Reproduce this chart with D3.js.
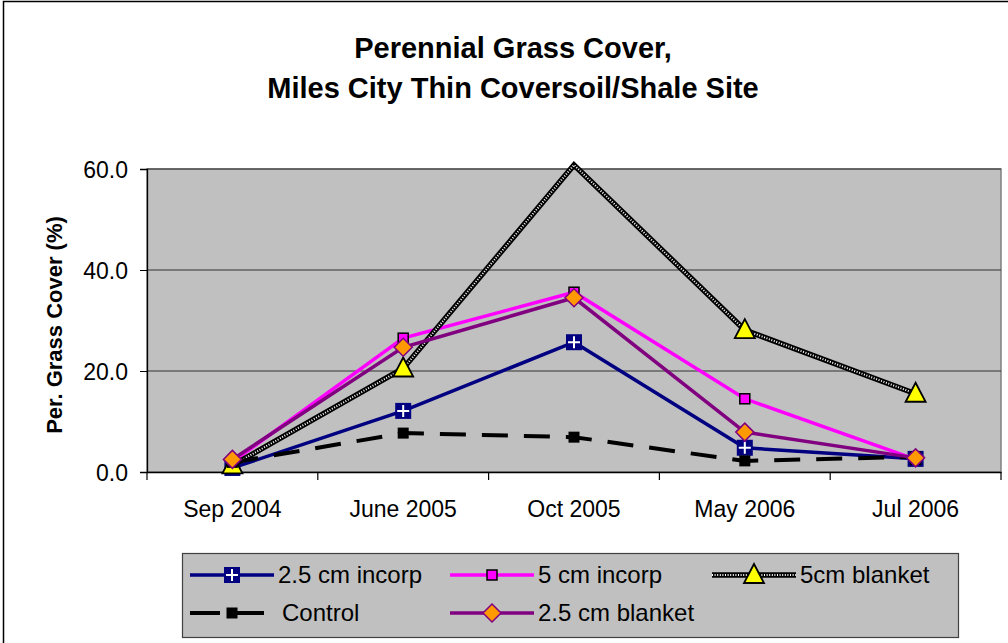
<!DOCTYPE html>
<html>
<head>
<meta charset="utf-8">
<script src="https://cdn.jsdelivr.net/npm/d3@7"></script>
<style>
  body { margin: 0; background: #fff; }
  text { font-family: "Liberation Sans", Arial, sans-serif; fill: #000; }
</style>
</head>
<body>
<div id="chart"></div>
<script>
// data
var months = ["Sep 2004", "June 2005", "Oct 2005", "May 2006", "Jul 2006"];
var incorp25 = [0.8, 12.1, 25.7, 4.8, 2.6];
var incorp5 = [2.0, 26.5, 35.6, 14.5, 2.5];
var blanket5 = [1.3, 20.5, 60.8, 28.1, 15.5];
var control = [1.9, 7.7, 6.9, 2.2, 3.0];
var blanket25 = [2.5, 24.7, 34.5, 7.9, 2.8];
var yTicks = [0, 20, 40, 60];

var svgWidth = 1008, svgHeight = 643;
var margin = {top: 169, left: 147, right: 7, bottom: 171};
var width = svgWidth - margin.left - margin.right;
var height = svgHeight - margin.top - margin.bottom;
var yMax = 60;

var svg = d3.select("#chart").append("svg")
  .attr("width", svgWidth)
  .attr("height", svgHeight);

// outer chart border
svg.append("rect")
  .attr("x", 3.5).attr("y", 1.5)
  .attr("width", svgWidth + 10).attr("height", svgHeight + 10)
  .attr("fill", "none").attr("stroke", "#000").attr("stroke-width", 1.5);

// title
svg.append("text").attr("x", 513).attr("y", 58)
  .attr("text-anchor", "middle").style("font-size", "29px").style("font-weight", "bold")
  .text("Perennial Grass Cover,");
svg.append("text").attr("x", 513).attr("y", 98)
  .attr("text-anchor", "middle").style("font-size", "29px").style("font-weight", "bold")
  .text("Miles City Thin Coversoil/Shale Site");

var chartGroup = svg.append("g")
  .attr("transform", `translate(${margin.left}, ${margin.top})`);

var x = d3.scaleBand().domain(months).range([0, width]);
var y = d3.scaleLinear().domain([0, yMax]).range([height, 0]);

// plot background
chartGroup.append("rect")
  .attr("width", width).attr("height", height)
  .attr("fill", "#c0c0c0").attr("stroke", "#808080").attr("stroke-width", 1.5);

// gridlines
chartGroup.selectAll(".grid")
  .data(yTicks.slice(1))
  .enter().append("line")
  .attr("x1", 0).attr("x2", width)
  .attr("y1", d => y(d)).attr("y2", d => y(d))
  .attr("stroke", "#333").attr("stroke-width", 1.2);

// axes
var leftAxis = d3.axisLeft(y).tickValues(yTicks).tickFormat(d3.format(".1f")).tickSize(7).tickPadding(12);
var bottomAxis = d3.axisBottom(x).tickSize(0).tickPadding(29);

var gy = chartGroup.append("g").call(leftAxis);
gy.selectAll("text").style("font-size", "23px").attr("dy", "0.35em");
gy.select(".domain").attr("stroke", "#000").attr("stroke-width", 1.3);

var gx = chartGroup.append("g").attr("transform", `translate(0, ${height})`).call(bottomAxis);
gx.selectAll("text").style("font-size", "23px");
gx.select(".domain").attr("stroke", "#000").attr("stroke-width", 1.5);
// category separator ticks
gx.selectAll(".sep")
  .data(d3.range(months.length + 1))
  .enter().append("line")
  .attr("x1", d => d * x.step()).attr("x2", d => d * x.step())
  .attr("y1", 0).attr("y2", 8)
  .attr("stroke", "#000").attr("stroke-width", 1.2);

// y axis label
svg.append("text")
  .attr("transform", "rotate(-90)")
  .attr("x", -325).attr("y", 62)
  .attr("text-anchor", "middle")
  .style("font-size", "22px").style("font-weight", "bold")
  .text("Per. Grass Cover (%)");

var cx = d => x(d) + x.bandwidth() / 2;

var series = [
  {name: "2.5 cm incorp", values: incorp25, color: "#000080", width: 3.5, marker: "plus"},
  {name: "5 cm incorp", values: incorp5, color: "#ff00ff", width: 3.5, marker: "square"},
  {name: "5cm blanket", values: blanket5, color: "#000", width: 5.5, marker: "triangle", hatch: true},
  {name: "Control", values: control, color: "#000", width: 4, marker: "control", dash: "26 16"},
  {name: "2.5 cm blanket", values: blanket25, color: "#800080", width: 3.5, marker: "diamond"}
];

function drawLine(g, pts, s) {
  var line = d3.line().x(d => d[0]).y(d => d[1]);
  g.append("path").attr("d", line(pts))
    .attr("fill", "none").attr("stroke", s.color).attr("stroke-width", s.width)
    .attr("stroke-dasharray", s.dash || null);
  if (s.hatch) {
    g.append("path").attr("d", line(pts))
      .attr("fill", "none").attr("stroke", "#fff").attr("stroke-width", 2)
      .attr("stroke-dasharray", "1 1.6");
  }
}

function drawMarker(g, px, py, type) {
  if (type === "plus") {
    g.append("rect").attr("x", px - 8).attr("y", py - 8).attr("width", 16).attr("height", 16)
      .attr("fill", "#000080");
    g.append("path").attr("d", `M${px - 6},${py}H${px + 6}M${px},${py - 6}V${py + 6}`)
      .attr("stroke", "#fff").attr("stroke-width", 2);
  } else if (type === "square") {
    g.append("rect").attr("x", px - 5).attr("y", py - 5).attr("width", 10).attr("height", 10)
      .attr("fill", "#ff00ff").attr("stroke", "#000").attr("stroke-width", 1.5);
  } else if (type === "triangle") {
    g.append("path").attr("d", `M${px},${py - 11}L${px + 10},${py + 8}L${px - 10},${py + 8}Z`)
      .attr("fill", "#ffff00").attr("stroke", "#000").attr("stroke-width", 1.8);
  } else if (type === "control") {
    g.append("rect").attr("x", px - 5.5).attr("y", py - 5.5).attr("width", 11).attr("height", 11)
      .attr("fill", "#000");
  } else if (type === "diamond") {
    g.append("path").attr("d", `M${px},${py - 9}L${px + 9},${py}L${px},${py + 9}L${px - 9},${py}Z`)
      .attr("fill", "#ff9900").attr("stroke", "#800080").attr("stroke-width", 1.5);
  }
}

series.forEach(function(s) {
  var g = chartGroup.append("g");
  var pts = s.values.map((v, i) => [cx(months[i]), y(v), v]);
  drawLine(g, pts, s);
  // points above the axis maximum get no marker
  pts.filter(p => p[2] <= yMax).forEach(p => drawMarker(g, p[0], p[1], s.marker));
});

// legend
var legend = svg.append("g");
legend.append("rect")
  .attr("x", 182.5).attr("y", 553.5).attr("width", 776).attr("height", 84)
  .attr("fill", "#c0c0c0").attr("stroke", "#404040").attr("stroke-width", 1.2);

var legPos = [[190, 575], [450, 575], [712, 575], [190, 613], [450, 613]];
series.forEach(function(s, i) {
  var lx = legPos[i][0], ly = legPos[i][1];
  var g = legend.append("g");
  var ls = Object.assign({}, s, {dash: s.dash ? "30 16 28 20" : null});
  drawLine(g, [[lx, ly], [lx + 84, ly]], ls);
  drawMarker(g, lx + 42, ly, s.marker);
  g.append("text").attr("x", lx + (s.dash ? 92 : 88)).attr("y", ly).attr("dy", "0.35em")
    .style("font-size", "24px").text(s.name);
});
</script>
</body>
</html>
